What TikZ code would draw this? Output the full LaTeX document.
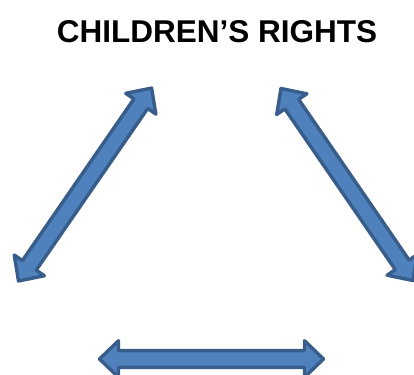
\documentclass[tikz,border=0pt]{standalone}
\usepackage{fontspec}
\setmainfont{Liberation Sans}
\definecolor{afill}{HTML}{4F81BD}
\definecolor{aline}{HTML}{385D8A}
\tikzset{
  blockarrow/.style={fill=afill, draw=aline, line width=3.4pt, line join=round},
}
% #1 = length (pt)
\newcommand\dblarrow[1]{%
  \draw[blockarrow] (0,0) -- (19,18.3) -- (19,8.4) -- (#1-19,8.4) -- (#1-19,18.3)
    -- (#1,0) -- (#1-19,-18.3) -- (#1-19,-8.4) -- (19,-8.4) -- (19,-18.3) -- cycle;}
\begin{document}
\begin{tikzpicture}[x=1pt,y=-1pt]
\useasboundingbox (0,0) rectangle (414,374);
\node[font=\fontsize{31.5}{36}\selectfont\bfseries, inner sep=0pt] (title) at (217,32) {CHILDREN’S RIGHTS};
\coordinate (l1) at (18.5,281);
\coordinate (r1) at (281,88.5);
\coordinate (b1) at (99.5,359);
\begin{scope}[shift={(l1)}, rotate=55.4]
  \dblarrow{234.4}
\end{scope}
\begin{scope}[shift={(r1)}, rotate=-55.5]
  \dblarrow{233}
\end{scope}
\begin{scope}[shift={(b1)}]
  \dblarrow{224}
\end{scope}
\end{tikzpicture}
\end{document}
